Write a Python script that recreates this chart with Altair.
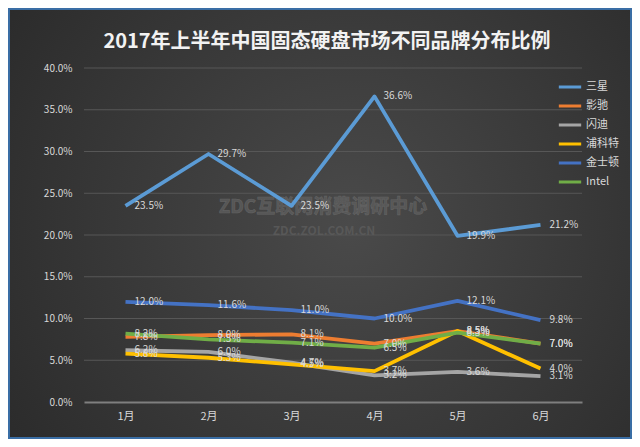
import altair as alt
import pandas as pd

months = ["1月", "2月", "3月", "4月", "5月", "6月"]
brands = ["三星", "影驰", "闪迪", "浦科特", "金士顿", "Intel"]
colors = ["#5b9bd5", "#ed7d31", "#a5a5a5", "#ffc000", "#4472c4", "#70ad47"]
y_ticks = [0, 5, 10, 15, 20, 25, 30, 35, 40]

samsung = [23.5, 29.7, 23.5, 36.6, 19.9, 21.2]
galax = [7.8, 8.0, 8.1, 7.0, 8.5, 7.0]
sandisk = [6.2, 6.0, 4.7, 3.2, 3.6, 3.1]
plextor = [5.8, 5.3, 4.5, 3.7, 8.5, 4.0]
kingston = [12.0, 11.6, 11.0, 10.0, 12.1, 9.8]
intel = [8.2, 7.5, 7.1, 6.5, 8.3, 7.0]

series = [samsung, galax, sandisk, plextor, kingston, intel]
rows = []
for b, vals in zip(brands, series):
    for m, v in zip(months, vals):
        rows.append({"month": m, "brand": b, "value": v})
df = pd.DataFrame(rows)

W, H = 498, 334
PAD = {"left": 76, "top": 60, "right": 50, "bottom": 37}

font = "Noto Sans CJK SC"

y_axis = alt.Axis(
    title=None, values=y_ticks,
    labelExpr="format(datum.value, '.1f') + '%'",
    domain=False, ticks=False, grid=False,
    labelColor="#d9d9d9", labelFont=font, labelFontSize=10,
    labelPadding=12, zindex=1,
)
y_scale = alt.Scale(domain=[0, 40], nice=False)

bg = alt.Chart(alt.Data(values=[{}])).mark_rect(
    fill={
        "gradient": "radial",
        "x1": 0.55, "y1": 0.5, "r1": 0,
        "x2": 0.55, "y2": 0.5, "r2": 0.7,
        "stops": [
            {"offset": 0, "color": "#4a4a4a"},
            {"offset": 1, "color": "#292929"},
        ],
    },
    stroke="#3a6ea5",
    strokeWidth=2,
).encode(
    x=alt.value(-PAD["left"] + 1),
    x2=alt.value(W + PAD["right"] - 1),
    y=alt.value(-PAD["top"] + 1),
    y2=alt.value(H + PAD["bottom"] - 1),
)

grid = alt.Chart(pd.DataFrame({"value": y_ticks[1:]})).mark_rule(
    color="#575757", strokeWidth=1
).encode(
    y=alt.Y("value:Q", scale=y_scale, axis=y_axis),
    x=alt.value(0),
    x2=alt.value(W),
)

wm1 = alt.Chart(alt.Data(values=[{"t": "ZDC互联网消费调研中心"}])).mark_text(
    font=font, fontSize=19, fontWeight="bold", color="#5c5c5c", opacity=0.8,
    stroke="#6a6a6a", strokeWidth=0.6,
).encode(x=alt.value(239), y=alt.value(139), text="t:N")

wm2 = alt.Chart(alt.Data(values=[{"t": "ZDC.ZOL.COM.CN"}])).mark_text(
    font=font, fontSize=12, fontWeight="bold", color="#5c5c5c", opacity=0.8,
).encode(x=alt.value(240), y=alt.value(163), text="t:N")

base = alt.Chart(df).encode(
    x=alt.X(
        "month:N",
        sort=months,
        scale=alt.Scale(type="point", padding=0.5),
        axis=alt.Axis(
            title=None, labelAngle=0, ticks=False, grid=False,
            domainColor="#7f7f7f", domainWidth=2,
            labelColor="#d9d9d9", labelFont=font, labelFontSize=11,
            labelPadding=8, zindex=1,
        ),
    ),
    y=alt.Y("value:Q", scale=y_scale, axis=y_axis),
    color=alt.Color(
        "brand:N",
        sort=brands,
        scale=alt.Scale(domain=brands, range=colors),
        legend=alt.Legend(
            title=None, orient="none", legendX=473, legendY=6,
            symbolType="stroke", symbolSize=500, symbolStrokeWidth=3,
            labelColor="#d9d9d9", labelFont=font, labelFontSize=11,
            labelOffset=3, rowPadding=0,
        ),
    ),
)

lines = base.mark_line(strokeWidth=3.8, strokeJoin="round")

labels = base.transform_calculate(
    lab="format(datum.value, '.1f') + '%'"
).mark_text(
    align="left", baseline="middle", dx=9, font=font, fontSize=10, color="#d9d9d9"
).encode(text="lab:N", color=alt.value("#d9d9d9"))

chart = alt.layer(bg, grid, wm1, wm2, lines, labels).properties(
    width=W,
    height=H,
    padding=PAD,
    autosize=alt.AutoSizeParams(type="none"),
    background="#2a2a2a",
    title=alt.TitleParams(
        "2017年上半年中国固态硬盘市场不同品牌分布比例",
        font=font, fontSize=20, fontWeight="bold", color="#f2f2f2",
        anchor="middle", offset=-44, dx=-6,
    ),
).configure_view(stroke=None)

chart.save("out.html", embed_options={"renderer": "svg", "actions": False})
